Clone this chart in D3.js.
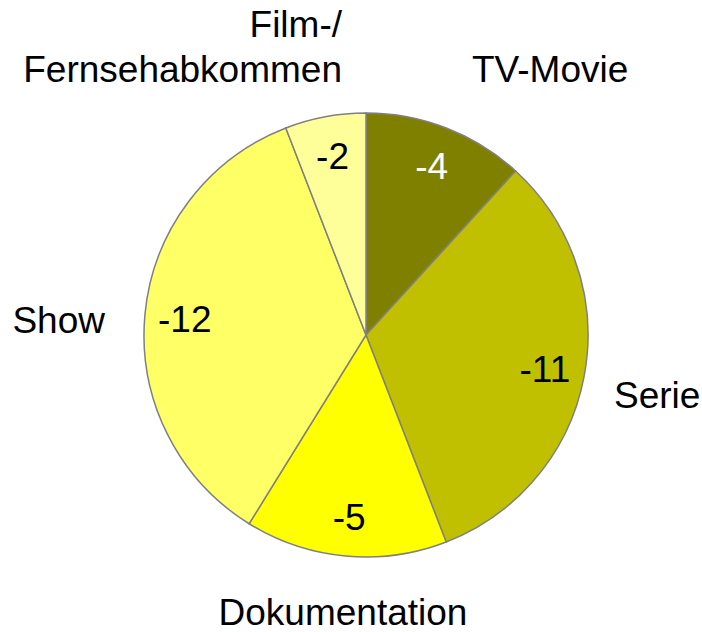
<!DOCTYPE html>
<html>
<head>
<meta charset="utf-8">
<script src="https://cdn.jsdelivr.net/npm/d3@7"></script>
<style>
  html, body { margin: 0; padding: 0; background: #fff; }
  svg { display: block; font-family: "Liberation Sans", Arial, sans-serif; }
</style>
</head>
<body>
<svg id="chart" width="702" height="632"></svg>
<script>
const categories = ["TV-Movie", "Serie", "Dokumentation", "Show", "Film-/\nFernsehabkommen"];
const values = [-4, -11, -5, -12, -2];
const colors = ["#808000", "#C0C000", "#FFFF00", "#FFFF66", "#FFFF99"];
const valueTextColors = ["#ffffff", "#000000", "#000000", "#000000", "#000000"];

const svg = d3.select("#chart");
const cx = 366, cy = 335, r = 222;
const fs = 37;
const g = svg.append("g").attr("transform", `translate(${cx},${cy})`);

const data = categories.map((c, i) => ({ cat: c, val: values[i], color: colors[i], tc: valueTextColors[i] }));
const pie = d3.pie().sort(null).value(d => Math.abs(d.val));
const arcs = pie(data);
const arc = d3.arc().innerRadius(0).outerRadius(r);
const labelArc = d3.arc().innerRadius(182).outerRadius(182);

g.selectAll("path.slice").data(arcs).enter().append("path")
  .attr("class", "slice")
  .attr("d", arc)
  .attr("fill", d => d.data.color)
  .attr("stroke", "#808080")
  .attr("stroke-width", 1.5);

g.selectAll("text.val").data(arcs).enter().append("text")
  .attr("class", "val")
  .attr("x", d => labelArc.centroid(d)[0])
  .attr("y", d => labelArc.centroid(d)[1])
  .attr("dy", "0.36em")
  .attr("text-anchor", "middle")
  .attr("font-size", fs)
  .attr("fill", d => d.data.tc)
  .text(d => d.data.val);

// outer category labels (placement per slice)
const outerPos = [
  { x: 472, y: 82, anchor: "start" },
  { x: 614, y: 408, anchor: "start" },
  { x: 343, y: 625, anchor: "middle" },
  { x: 105, y: 333, anchor: "end" },
  { x: 342, y: 37, anchor: "end" }
];
arcs.forEach((d, i) => {
  const p = outerPos[i];
  const lines = d.data.cat.split("\n");
  const t = svg.append("text")
    .attr("x", p.x).attr("y", p.y)
    .attr("text-anchor", p.anchor)
    .attr("font-size", fs)
    .attr("fill", "#000");
  lines.forEach((ln, k) => {
    t.append("tspan").attr("x", p.x).attr("dy", k === 0 ? 0 : 45).text(ln);
  });
});
</script>
</body>
</html>
